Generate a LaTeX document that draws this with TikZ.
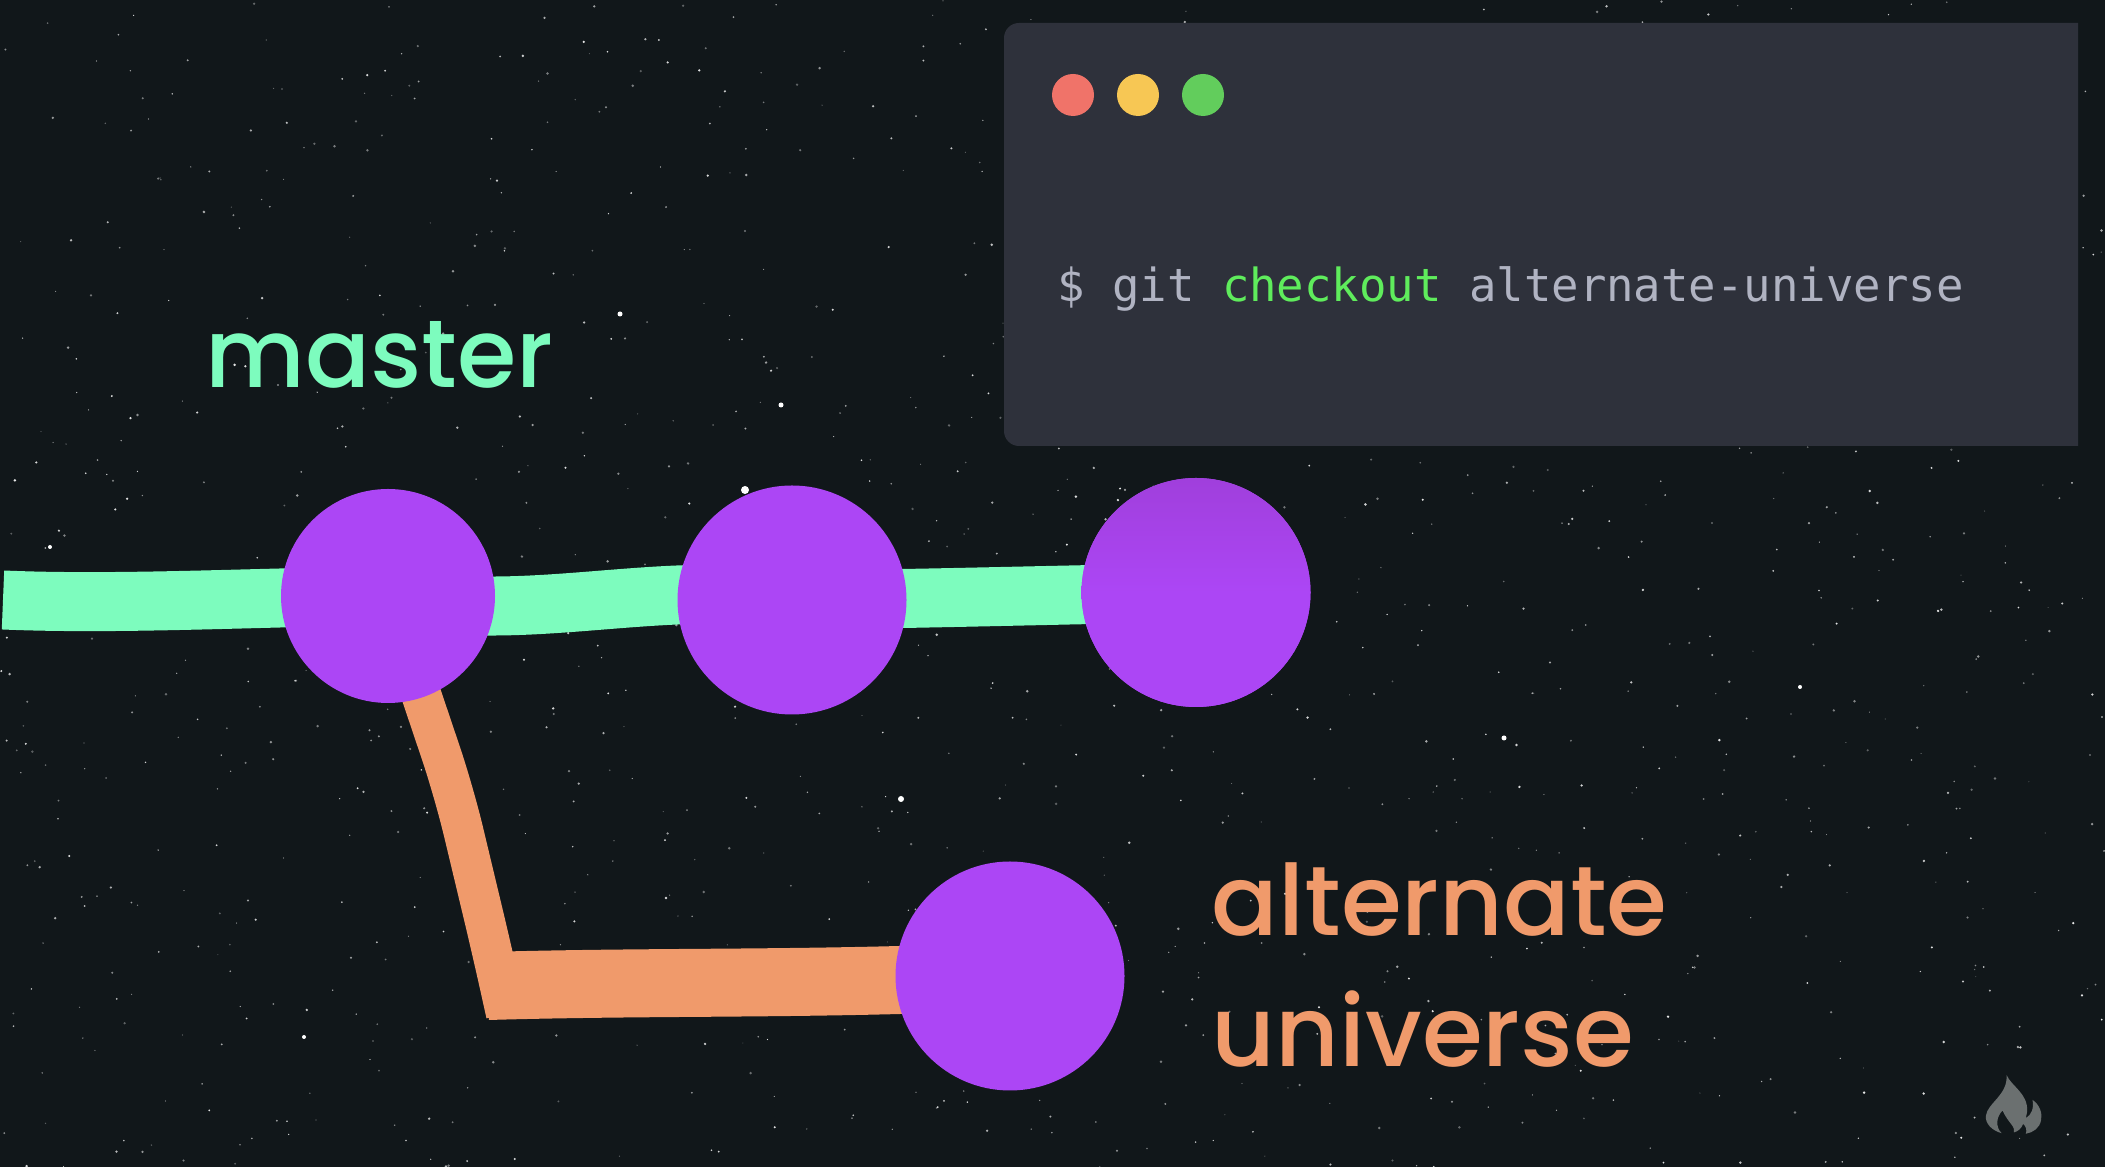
\documentclass[tikz,border=0pt]{standalone}
\usepackage{fontspec}
\setmainfont{Poppins Medium}
\newfontfamily\termfont{DejaVu Sans Mono}
\usetikzlibrary{backgrounds}
\definecolor{skycol}{HTML}{11171A}
\definecolor{panelcol}{HTML}{2E313B}
\definecolor{commitcol}{HTML}{AC46F5}
\definecolor{commitdark}{HTML}{A03FDC}
\definecolor{mastercol}{HTML}{7DFCBE}
\definecolor{branchcol}{HTML}{F09A6B}
\definecolor{termgrey}{HTML}{B0B3C2}
\definecolor{termgreen}{HTML}{5FEC5C}
\definecolor{flamecol}{HTML}{6B7070}
\definecolor{closecol}{HTML}{F07369}
\definecolor{mincol}{HTML}{F7C754}
\definecolor{maxcol}{HTML}{62CD5C}
\tikzset{
    commit/.style={circle,fill=commitcol,inner sep=0pt},
    windowdot/.style={circle,inner sep=0pt,minimum size=0.42cm},
    mainline/.style={draw=mastercol,line width=0.59cm},
    branchline/.style={draw=branchcol,line width=0.40cm},
    bigtext/.style={font=\fontsize{27.3pt}{37.2pt}\selectfont,inner sep=0pt,align=left}
}
\begin{document}
\begin{tikzpicture}
    \useasboundingbox (0,0) rectangle (21.05,11.67);
    \node[commit,minimum size=2.14cm] (A) at (3.88,5.71) {};
    \node[commit,minimum size=2.29cm] (B) at (7.92,5.67) {};
    \node[commit,minimum size=2.29cm,top color=commitdark,bottom color=commitcol,middle color=commitcol] (C) at (11.96,5.745) {};
    \node[commit,minimum size=2.29cm] (D) at (10.10,1.91) {};
    \node[windowdot,fill=closecol] (closedot) at (10.73,10.72) {};
    \node[windowdot,fill=mincol] (mindot) at (11.38,10.72) {};
    \node[windowdot,fill=maxcol] (maxdot) at (12.03,10.72) {};
    \node[anchor=base west,inner sep=0pt,text=termgrey,font=\termfont\fontsize{12.98pt}{15pt}\selectfont] (cmd) at (10.565,8.65) {\$ git \textcolor{termgreen}{checkout} alternate-universe};
    \node[bigtext,text=mastercol,anchor=base west] (mastertext) at (2.05,7.79) {master};
    \node[bigtext,font=\fontsize{28pt}{37.2pt}\selectfont,text=branchcol,anchor=west] (alttext) at (12.11,2.02) {alternate\\universe};
    \coordinate (tail) at (0.03,5.67);
    \coordinate (knee) at (4.54,3.75);
    \coordinate (shin) at (4.93,2.12);
    \coordinate (foot) at (5.06,1.53);
    \coordinate (heel) at (4.88,1.81);
    \begin{scope}[on background layer]
        \fill[skycol] (0,0) rectangle (21.05,11.67);
        \pgfmathsetseed{4217}
        \foreach \i in {1,...,1300} {
            \pgfmathsetmacro{\sx}{rnd*21.05}
            \pgfmathsetmacro{\sy}{rnd*11.67}
            \pgfmathsetmacro{\so}{0.3+0.6*rnd}
            \pgfmathsetmacro{\sr}{0.005+0.009*rnd}
            \fill[white,opacity=\so] (\sx,\sy) circle (\sr);
        }
        \foreach \sx/\sy/\sr in {7.45/6.77/0.04,7.81/7.62/0.025,6.2/8.53/0.025,15.04/4.29/0.025,9.01/3.68/0.03,0.5/6.2/0.02,3.04/1.3/0.02,18.0/4.8/0.02}
            \fill[white] (\sx,\sy) circle (\sr);
        \fill[panelcol,rounded corners=0.15cm] (20.78,11.44) -- (10.04,11.44) -- (10.04,7.21) -- (20.78,7.21);
        \draw[mainline] (tail) .. controls (1.2,5.62) and (2.6,5.70) .. (A.center);
        \draw[mainline] (A.center) .. controls (5.23,5.416) and (6.57,5.883) .. (B.center);
        \draw[mainline] (B.center) .. controls (9.2,5.68) and (10.5,5.72) .. (C.center);
        \draw[branchline,rounded corners=0.4cm] (A.center) -- (knee) -- (shin) -- (foot);
        \draw[branchline,line width=0.68cm] (heel) .. controls (6.6,1.86) and (8.2,1.82) .. (D.center);
    \end{scope}
    \fill[flamecol,shift={(19.40,1.27)},x=0.00333cm,y=-0.00333cm]
        (200,105) .. controls (215,140) and (265,160) .. (262,215)
        -- (258,235) .. controls (275,225) and (283,205) .. (278,180)
        .. controls (300,195) and (308,220) .. (304,240)
        .. controls (300,265) and (280,278) .. (258,282)
        .. controls (262,270) and (258,260) .. (250,252)
        .. controls (245,265) and (235,275) .. (222,278)
        .. controls (228,260) and (205,250) .. (188,212)
        .. controls (170,230) and (165,260) .. (185,280)
        .. controls (155,272) and (135,250) .. (138,228)
        .. controls (142,190) and (205,165) .. (200,105) -- cycle;
\end{tikzpicture}
\end{document}
